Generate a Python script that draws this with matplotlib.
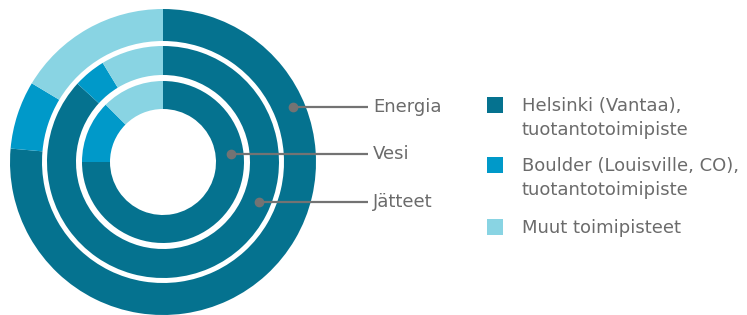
import matplotlib
matplotlib.use("Agg")
import matplotlib.pyplot as plt
from matplotlib.patches import Rectangle

# Data (percent shares, clockwise from 12 o'clock)
sites = ["Helsinki (Vantaa),\ntuotantotoimipiste",
         "Boulder (Louisville, CO),\ntuotantotoimipiste",
         "Muut toimipisteet"]
colors = ["#05728f", "#0099c9", "#89d4e3"]
ring_names = ["Energia", "Jätteet", "Vesi"]          # outer, middle, inner
energia = [76.4, 7.2, 16.4]
jatteet = [86.8, 4.5, 8.7]
vesi = [75.0, 12.5, 12.5]
ring_values = [energia, jatteet, vesi]

W, H = 747, 315
fig = plt.figure(figsize=(W / 100, H / 100), dpi=100)

# Pie axes: centre (163,162) px, radius 153 px
R = 153
cx, cy = 163, 162
ax = fig.add_axes([(cx - R) / W, (H - cy - R) / H, 2 * R / W, 2 * R / H])
ax.set_xlim(-1, 1)
ax.set_ylim(-1, 1)
ax.set_aspect("equal")
ax.axis("off")

radii = [1.0, 116 / R, 81 / R]
widths = [32 / R, 29 / R, 28 / R]
for vals, r, w in zip(ring_values, radii, widths):
    ax.pie(vals, radius=r, colors=colors, startangle=90, counterclock=False,
           wedgeprops=dict(width=w, edgecolor="none", linewidth=0))
ax.set_xlim(-1, 1)
ax.set_ylim(-1, 1)

# Overlay axes in pixel coordinates for labels and legend
ov = fig.add_axes([0, 0, 1, 1])
ov.set_xlim(0, W)
ov.set_ylim(H, 0)
ov.axis("off")

grey = "#6b6b6b"
font = "DejaVu Sans"
fs = 13
label_pts = [(293, 107), (259, 202), (231, 154)]   # dots on outer, middle, inner ring
for name, (dx, dy) in zip(ring_names, label_pts):
    ov.plot([dx, 368], [dy, dy], color="#737373", lw=1.6, solid_capstyle="butt")
    ov.plot([dx], [dy], "o", color="#737373", ms=6)
    ov.text(373, dy, name, color=grey, fontsize=fs, family=font,
            va="center", ha="left")

# Legend
leg_y = [105, 165, 227]
for name, col, y in zip(sites, colors, leg_y):
    ov.add_patch(Rectangle((487, y - 8), 16, 16, color=col, lw=0))
    lines = name.split("\n")
    for i, ln in enumerate(lines):
        ov.text(522, y + 1 + i * 24, ln, color=grey, fontsize=fs, family=font,
                va="center", ha="left")

fig.savefig("out.png", dpi=100)
